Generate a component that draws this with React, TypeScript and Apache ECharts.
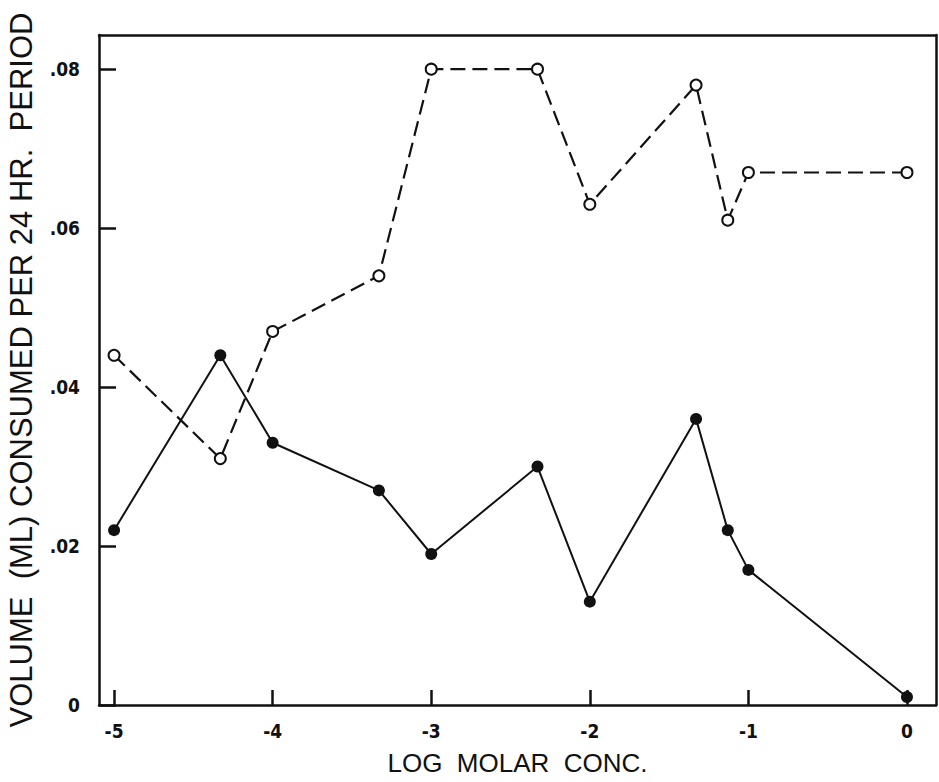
import React, { useEffect, useRef } from "react";
import * as echarts from "echarts";

// log molar concentration (x) and volume consumed (y)
const openX = [-5, -4.33, -4, -3.33, -3, -2.33, -2, -1.33, -1.13, -1, 0];
const openY = [0.044, 0.031, 0.047, 0.054, 0.08, 0.08, 0.063, 0.078, 0.061, 0.067, 0.067];
const filledX = [-5, -4.33, -4, -3.33, -3, -2.33, -2, -1.33, -1.13, -1, 0];
const filledY = [0.022, 0.044, 0.033, 0.027, 0.019, 0.03, 0.013, 0.036, 0.022, 0.017, 0.001];
const xTicks = [-5, -4, -3, -2, -1, 0];
const yTicks = [0, 0.02, 0.04, 0.06, 0.08];

const tickFont = '"Liberation Sans Narrow", "DejaVu Sans Condensed", "Liberation Sans", sans-serif';
const titleFont = '"Liberation Sans", Arial, sans-serif';

const isTick = (list: number[], v: number) => list.some((t) => Math.abs(t - v) < 1e-9);

export default function App() {
  const ref = useRef<HTMLDivElement>(null);
  useEffect(() => {
    if (!ref.current) return;
    const chart = echarts.init(ref.current, null, { renderer: "svg" });
    const toPairs = (xs: number[], ys: number[]) => xs.map((x, i) => [x, ys[i]]);
    const X_MIN = -5.095;
    const X_MAX = 0.183;
    const Y_MIN = 0;
    const Y_MAX = 0.0843;
    const frameLine = { show: true, onZero: false, lineStyle: { color: "#111", width: 2.5 } };
    chart.setOption({
      animation: false,
      backgroundColor: "#ffffff",
      grid: {
        left: 99,
        right: 3,
        top: 35,
        bottom: 77,
        containLabel: false,
        outerBoundsMode: "none",
      },
      xAxis: [
        {
          type: "value",
          min: X_MIN,
          max: X_MAX,
          splitNumber: 5,
          name: "LOG  MOLAR  CONC.",
          nameLocation: "middle",
          nameGap: 45,
          nameTextStyle: { fontFamily: titleFont, fontSize: 26, color: "#111" },
          axisLine: frameLine,
          axisTick: { show: true, inside: true, length: 15, lineStyle: { color: "#111", width: 2.5 } },
          axisLabel: {
            showMinLabel: false,
            showMaxLabel: false,
            margin: 16,
            fontFamily: tickFont,
            fontWeight: "bold",
            fontSize: 19,
            color: "#111",
            formatter: (v: number) => (!isTick(xTicks, v) ? "" : v === 0 ? "0" : String(v)),
          },
          splitLine: { show: false },
        },
        {
          type: "value",
          position: "top",
          min: X_MIN,
          max: X_MAX,
          axisLine: frameLine,
          axisTick: { show: false },
          axisLabel: { show: false },
          splitLine: { show: false },
        },
      ],
      yAxis: [
        {
          type: "value",
          min: Y_MIN,
          max: Y_MAX,
          splitNumber: 5,
          name: "VOLUME  (ML) CONSUMED PER 24 HR.  PERIOD",
          nameLocation: "middle",
          nameGap: 62,
          nameRotate: 90,
          nameTextStyle: { fontFamily: titleFont, fontSize: 31, color: "#111" },
          axisLine: frameLine,
          axisTick: { show: true, inside: true, length: 17, lineStyle: { color: "#111", width: 2.5 } },
          axisLabel: {
            showMaxLabel: false,
            margin: 19,
            fontFamily: tickFont,
            fontWeight: "bold",
            fontSize: 19,
            color: "#111",
            formatter: (v: number) =>
              !isTick(yTicks, v) ? "" : v === 0 ? "0" : "." + Math.round(v * 100).toString().padStart(2, "0"),
          },
          splitLine: { show: false },
        },
        {
          type: "value",
          position: "right",
          min: Y_MIN,
          max: Y_MAX,
          axisLine: frameLine,
          axisTick: { show: false },
          axisLabel: { show: false },
          splitLine: { show: false },
        },
      ],
      series: [
        {
          type: "line",
          data: toPairs(filledX, filledY),
          symbol: "circle",
          symbolSize: 12,
          itemStyle: { color: "#111", borderColor: "#111", borderWidth: 0 },
          lineStyle: { color: "#111", width: 2, type: "solid" },
          z: 2,
        },
        {
          type: "line",
          data: toPairs(openX, openY),
          symbol: "circle",
          symbolSize: 11,
          showAllSymbol: true,
          itemStyle: { color: "#ffffff", borderColor: "#111", borderWidth: 2 },
          lineStyle: { color: "#111", width: 2.2, type: [15, 7] },
          z: 3,
        },
      ],
    });
    return () => chart.dispose();
  }, []);
  return (
    <div
      ref={ref}
      style={{ position: "fixed", left: 0, top: 0, width: 939, height: 782, background: "#fff" }}
    />
  );
}
